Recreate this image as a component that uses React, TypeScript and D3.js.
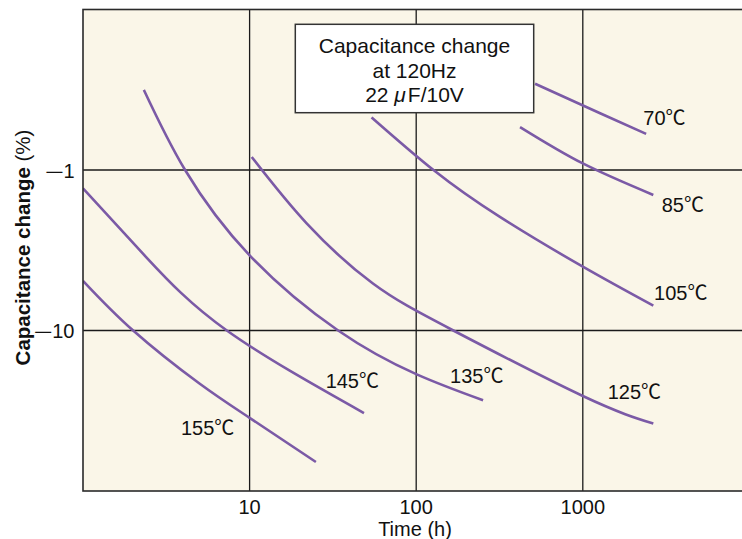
import React from 'react';
import * as d3 from 'd3';

// ---- data ----
const xTickValues = [10, 100, 1000];
const xTickLabels = ['10', '100', '1000'];
const yTickValues = [1, 10];
const yTickSign = '—';
const yTickLabels = ['1', '10'];

const seriesNames = ['70℃', '85℃', '105℃', '125℃', '135℃', '145℃', '155℃'];

// time (h) and |capacitance change| (%)
const t70 = [517, 1270, 2400];
const c70 = [0.29, 0.443, 0.596];
const t85 = [420, 1000, 2650];
const c85 = [0.54, 0.91, 1.43];
const t105 = [54, 127, 318, 1000, 2650];
const c105 = [0.47, 1.0, 1.96, 4.0, 7.0];
const t125 = [10.3, 22, 55, 167, 1000, 2650];
const c125 = [0.83, 2.15, 5.1, 10, 25.6, 38];
const t135 = [2.32, 4.1, 10, 34, 100, 252];
const c135 = [0.317, 1.0, 3.4, 10, 18.7, 27.2];
const t145 = [1, 2.4, 7.3, 48.6];
const c145 = [1.3, 3.5, 10, 32.7];
const t155 = [1, 2, 5, 10, 25];
const c155 = [4.9, 10, 21.4, 35, 66];

const seriesT = [t70, t85, t105, t125, t135, t145, t155];
const seriesC = [c70, c85, c105, c125, c135, c145, c155];

// label anchor (data coords, left/baseline)
const labelT = [2307, 2976, 2676, 1411, 159.6, 28.6, 3.87];
const labelC = [0.524, 1.83, 6.47, 26.8, 21.3, 22.9, 45.0];

const boxLines = ['Capacitance change', 'at 120Hz', '22 ', 'μ', 'F/10V'];

const W = 742;
const H = 539;
const FONT = "'Liberation Sans', Arial, 'Noto Sans CJK JP', sans-serif";
const CJK = "'Noto Sans CJK JP', sans-serif";
const LINE_COLOR = '#7B5AA6';

export default function App() {
  const left = 83;
  const top = 9.5;
  const bottom = 491;
  const right = left + 4 * 166.6;

  const x = d3.scaleLog().domain([1, 10000]).range([left, right]);
  const y = d3.scaleLog().domain([0.1, 100]).range([top, bottom]);

  const line = d3
    .line<[number, number]>()
    .x((d) => x(d[0]))
    .y((d) => y(d[1]))
    .curve(d3.curveNatural);

  const box = { x0: 295.3, x1: 533.7, y0: 24.3, y1: 112.7 };
  const boxCx = (box.x0 + box.x1) / 2;

  return (
    <svg
      width={W}
      height={H}
      viewBox={`0 0 ${W} ${H}`}
      style={{ position: 'absolute', left: 0, top: 0, display: 'block', background: '#fff' }}
      fontFamily={FONT}
    >
      <defs>
        <clipPath id="plotclip">
          <rect x={left} y={top} width={right - left} height={bottom - top} />
        </clipPath>
      </defs>
      <rect x={left} y={top} width={right - left} height={bottom - top} fill="#FAF6E8" />

      {/* grid */}
      {xTickValues.map((v) => (
        <line key={'gx' + v} x1={x(v)} x2={x(v)} y1={top} y2={bottom} stroke="#1a1a1a" strokeWidth={1.3} />
      ))}
      {yTickValues.map((v) => (
        <line key={'gy' + v} x1={left} x2={right} y1={y(v)} y2={y(v)} stroke="#1a1a1a" strokeWidth={1.3} />
      ))}

      {/* curves */}
      <g clipPath="url(#plotclip)">
        {seriesT.map((ts, i) => {
          const pts: [number, number][] = ts.map((t, j) => [t, seriesC[i][j]]);
          return (
            <path
              key={'s' + i}
              d={line(pts) || ''}
              fill="none"
              stroke={LINE_COLOR}
              strokeWidth={2.6}
              strokeLinecap="butt"
            />
          );
        })}
      </g>

      {/* frame */}
      <rect x={left} y={top} width={right - left} height={bottom - top} fill="none" stroke="#2a2a2a" strokeWidth={1.6} />

      {/* series labels */}
      {seriesNames.map((n, i) => (
        <text key={'l' + i} x={x(labelT[i])} y={y(labelC[i])} fontSize={20} fill="#111">
          {n}
        </text>
      ))}

      {/* annotation box */}
      <rect
        x={box.x0}
        y={box.y0}
        width={box.x1 - box.x0}
        height={box.y1 - box.y0}
        fill="#fff"
        stroke="#333"
        strokeWidth={1.5}
      />
      <text x={boxCx} y={53} fontSize={21} textAnchor="middle" fill="#111">
        {boxLines[0]}
      </text>
      <text x={boxCx} y={77.5} fontSize={21} textAnchor="middle" fill="#111">
        {boxLines[1]}
      </text>
      <text x={boxCx} y={101.5} fontSize={21} textAnchor="middle" fill="#111">
        <tspan>{boxLines[2]}</tspan>
        <tspan fontStyle="italic">{boxLines[3]}</tspan>
        <tspan dx={2}>{boxLines[4]}</tspan>
      </text>

      {/* x tick labels */}
      {xTickValues.map((v, i) => (
        <text key={'xt' + v} x={x(v)} y={514} fontSize={20} textAnchor="middle" fill="#111">
          {xTickLabels[i]}
        </text>
      ))}
      <text x={415} y={536} fontSize={20} textAnchor="middle" fill="#111">
        Time (h)
      </text>

      {/* y tick labels */}
      {yTickValues.map((v, i) => (
        <text key={'yt' + v} x={74.5} y={y(v) + 7.5} fontSize={20} textAnchor="end" fill="#111">
          <tspan fontFamily={CJK}>{yTickSign}</tspan>
          <tspan>{yTickLabels[i]}</tspan>
        </text>
      ))}
      <text
        transform={`translate(29.5, 247.5) rotate(-90)`}
        fontSize={20.5}
        textAnchor="middle"
        fill="#111"
      >
        <tspan fontWeight="bold">Capacitance change</tspan>
        <tspan> (%)</tspan>
      </text>
    </svg>
  );
}
